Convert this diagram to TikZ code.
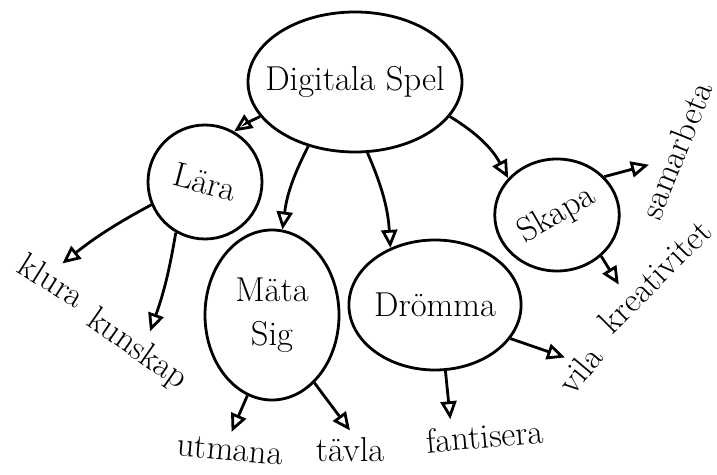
\documentclass[tikz,border=0pt]{standalone}
\usepackage{tikz}
\usetikzlibrary{calc}
\usetikzlibrary{positioning}
\usetikzlibrary{arrows.meta}
\usetikzlibrary{shapes.geometric}

\begin{document}
\begin{tikzpicture}[>={Triangle[open, length=9pt, width=8pt]}, x=0.5pt, y=-0.5pt, line width=1.4pt]
\tikzset{topic/.style={draw, ellipse, inner sep=0pt, font=\LARGE},
         leaf/.style={font=\LARGE, inner sep=3pt}}
\useasboundingbox (0,0) rectangle (717,475);
% main idea and the four branches
\node[topic, inner xsep=-8pt, minimum width=107pt, minimum height=70pt] (spel) at (355,82) {Digitala Spel};
\node[topic, minimum width=57pt, minimum height=57pt] (lara) at (205,182) {\rotatebox{-15}{Lära}};
\node[topic, minimum width=67pt, minimum height=85pt, align=center] (mata) at (272,315) {Mäta\\Sig};
\node[topic, minimum width=85pt, minimum height=65pt] (drom) at (435,305) {Drömma};
\node[topic, minimum width=60pt, minimum height=56pt] (skapa) at (557,215) {\rotatebox{30}{Skapa}};
% leaves
\node[leaf, rotate=-32] (klura) at (52,280) {klura};
\node[leaf, rotate=-35] (kunskap) at (137,350) {kunskap};
\node[leaf, rotate=-5] (utmana) at (230,450) {utmana};
\node[leaf] (tavla) at (350,450) {tävla};
\node[leaf, rotate=5] (fant) at (485,436) {fantisera};
\node[leaf, rotate=50] (vila) at (580,370) {vila};
\node[leaf, rotate=45] (kreat) at (655,276) {kreativitet};
\node[leaf, rotate=68] (samar) at (676,150) {samarbeta};
% arrows
\draw[->] (spel.200) to[bend right=5] (lara.60);
\draw[->] (spel.234) to[bend right=10] (mata.83);
\draw[->] (spel.280) to[bend left=10] (drom.128);
\draw[->] (spel.340) to[bend left=15] (skapa.143);
\draw[->] (lara.203) to[bend right=5] (klura.north);
\draw[->] (lara.240) to[bend left=5] (kunskap.north);
\draw[->] (mata.253) -- (utmana.north);
\draw[->] (mata.302) -- (tavla.north);
\draw[->] (drom.279) -- ($(fant.north west)!.25!(fant.north east)$);
\draw[->] (drom.336) -- (vila.north);
\draw[->] (skapa.39) -- ($(samar.north west)!.35!(samar.north east)$);
\draw[->] (skapa.317) -- ($(kreat.north west)!.3!(kreat.north east)$);
\end{tikzpicture}
\end{document}
